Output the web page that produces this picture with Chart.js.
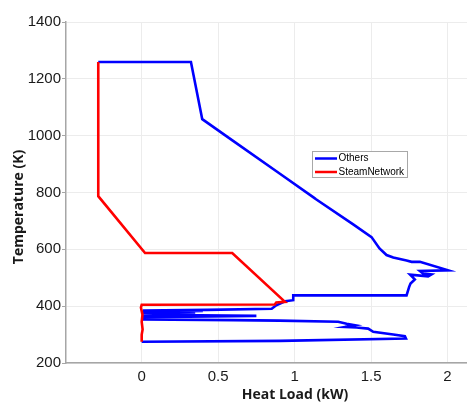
<!DOCTYPE html>
<html>
<head>
<meta charset="utf-8">
<script src="https://cdn.jsdelivr.net/npm/chart.js@4.4.1/dist/chart.umd.min.js"></script>
<style>
  html, body { margin: 0; padding: 0; background: #ffffff; overflow: hidden; width: 467px; height: 403px; }
  #wrap { position: absolute; left: 0; top: 0; width: 540px; height: 403px; }
</style>
</head>
<body>
<div id="wrap"><canvas id="c" width="540" height="403"></canvas></div>
<script>
// ---- data (Heat Load in kW, Temperature in K) ----
const seriesNames = ["Others", "SteamNetwork"];
const xTitle = "Heat Load (kW)";
const yTitle = "Temperature (K)";

const othersLoad = [-0.284, 0.322, 0.396, 0.600, 0.904, 1.128, 1.140, 1.383, 1.503, 1.555, 1.601, 1.645, 1.732, 1.765, 1.819, 2.004,
  1.819, 1.840, 1.895, 1.873, 1.755, 1.786, 1.758, 1.749, 1.732, 0.991, 0.991, 0.937, 0.880, 0.850,
  0.430, 0.008, 0.400, 0.008, 0.350, 0.008, 0.300, 0.008, 0.750, 0.008, 0.008, 0.600, 0.900, 1.285,
  1.340, 1.394, 1.330, 1.405, 1.481, 1.514, 1.645, 1.721, 1.728, 0.904, 0.000];
const othersTemp = [1259, 1259, 1058, 981, 866, 781, 776, 688, 643, 603, 580, 571, 561, 556, 556, 526,
  524, 515, 512, 505, 511, 494, 480, 468, 438, 438, 421, 417, 403, 391,
  387, 385, 383, 380, 378, 375, 372, 370, 366, 361, 353, 351, 349, 345,
  338, 333, 327, 325, 321, 310, 300, 294, 286, 278, 275];

const steamLoad = [-0.284, -0.284, 0.022, 0.592, 0.937, 0.880, 0.870, 0.000, -0.005, 0.005, 0.000, 0.006, 0.000, 0.000];
const steamTemp = [1259, 787, 587, 587, 415, 413, 406, 405, 395, 370, 345, 318, 300, 275];

const yTicks = [200, 400, 600, 800, 1000, 1200, 1400];
const xTicks = [0, 0.5, 1, 1.5, 2, 2.5];

const toPts = (xs, ys) => xs.map((x, i) => ({ x: x, y: ys[i] }));
const titleFont = 'bold 14px "Open Sans", sans-serif';

const decorPlugin = {
  id: 'decor',
  afterDraw(chart) {
    const ctx = chart.ctx;
    ctx.save();
    // y axis title
    ctx.translate(19, 207);
    ctx.rotate(-Math.PI / 2);
    ctx.font = titleFont;
    ctx.fillStyle = '#1a1a1a';
    ctx.textAlign = 'center';
    ctx.textBaseline = 'middle';
    ctx.fillText(yTitle, 0, 0);
    ctx.restore();

    // legend box
    ctx.save();
    const x0 = 312, y0 = 151, w = 95, h = 26;
    ctx.fillStyle = '#ffffff';
    ctx.fillRect(x0, y0, w, h);
    ctx.strokeStyle = '#a8a8a8';
    ctx.lineWidth = 1;
    ctx.strokeRect(x0 + 0.5, y0 + 0.5, w, h);
    const rows = [158.5, 172];
    ctx.font = '10px "Liberation Sans", Arial, sans-serif';
    ctx.textBaseline = 'middle';
    ctx.textAlign = 'left';
    chart.data.datasets.forEach((ds, i) => {
      const yy = rows[i];
      ctx.strokeStyle = ds.borderColor;
      ctx.lineWidth = 2.5;
      ctx.beginPath();
      ctx.moveTo(315, yy);
      ctx.lineTo(337, yy);
      ctx.stroke();
      ctx.fillStyle = '#000000';
      ctx.fillText(ds.label, 338.5, yy);
    });
    ctx.restore();
  }
};

new Chart(document.getElementById('c'), {
  type: 'scatter',
  data: {
    datasets: [
      { label: seriesNames[0], data: toPts(othersLoad, othersTemp), showLine: true, borderColor: '#0000ff', backgroundColor: '#0000ff', borderWidth: 2.6, pointRadius: 0, tension: 0, order: 1 },
      { label: seriesNames[1], data: toPts(steamLoad, steamTemp), showLine: true, borderColor: '#ff0000', backgroundColor: '#ff0000', borderWidth: 2.6, pointRadius: 0, tension: 0, order: 0 }
    ]
  },
  options: {
    responsive: false,
    animation: false,
    layout: { padding: { top: 22, right: 16, bottom: 0, left: 0 } },
    plugins: { legend: { display: false }, tooltip: { enabled: false } },
    scales: {
      x: {
        type: 'linear',
        min: -0.495, max: 2.5,
        afterBuildTicks: (s) => { s.ticks = xTicks.map(v => ({ value: v })); },
        afterFit: (s) => { s.height = 40; },
        ticks: { color: '#1a1a1a', font: { family: '"Liberation Sans", Arial, sans-serif', size: 15 }, padding: 2, maxRotation: 0,
                 callback: (v) => String(v) },
        grid: { color: '#ececec', lineWidth: 1, tickLength: 3, tickColor: 'rgba(0,0,0,0)' },
        border: { color: '#a6a6a6', width: 1.5 },
        title: { display: true, text: xTitle, color: '#1a1a1a', font: { family: '"Open Sans", sans-serif', size: 14, weight: 'bold' }, padding: { top: 0, bottom: 0 } }
      },
      y: {
        type: 'linear',
        min: 200, max: 1400,
        afterBuildTicks: (s) => { s.ticks = yTicks.map(v => ({ value: v })); },
        afterFit: (s) => { s.width = 66; },
        ticks: { color: '#1a1a1a', font: { family: '"Liberation Sans", Arial, sans-serif', size: 15 }, padding: 1,
                 callback: (v) => String(v) },
        grid: { color: '#ececec', lineWidth: 1, tickLength: 4, tickColor: '#a6a6a6' },
        border: { color: '#a6a6a6', width: 1.5 },
        title: { display: false }
      }
    }
  },
  plugins: [decorPlugin]
});
</script>
</body>
</html>
